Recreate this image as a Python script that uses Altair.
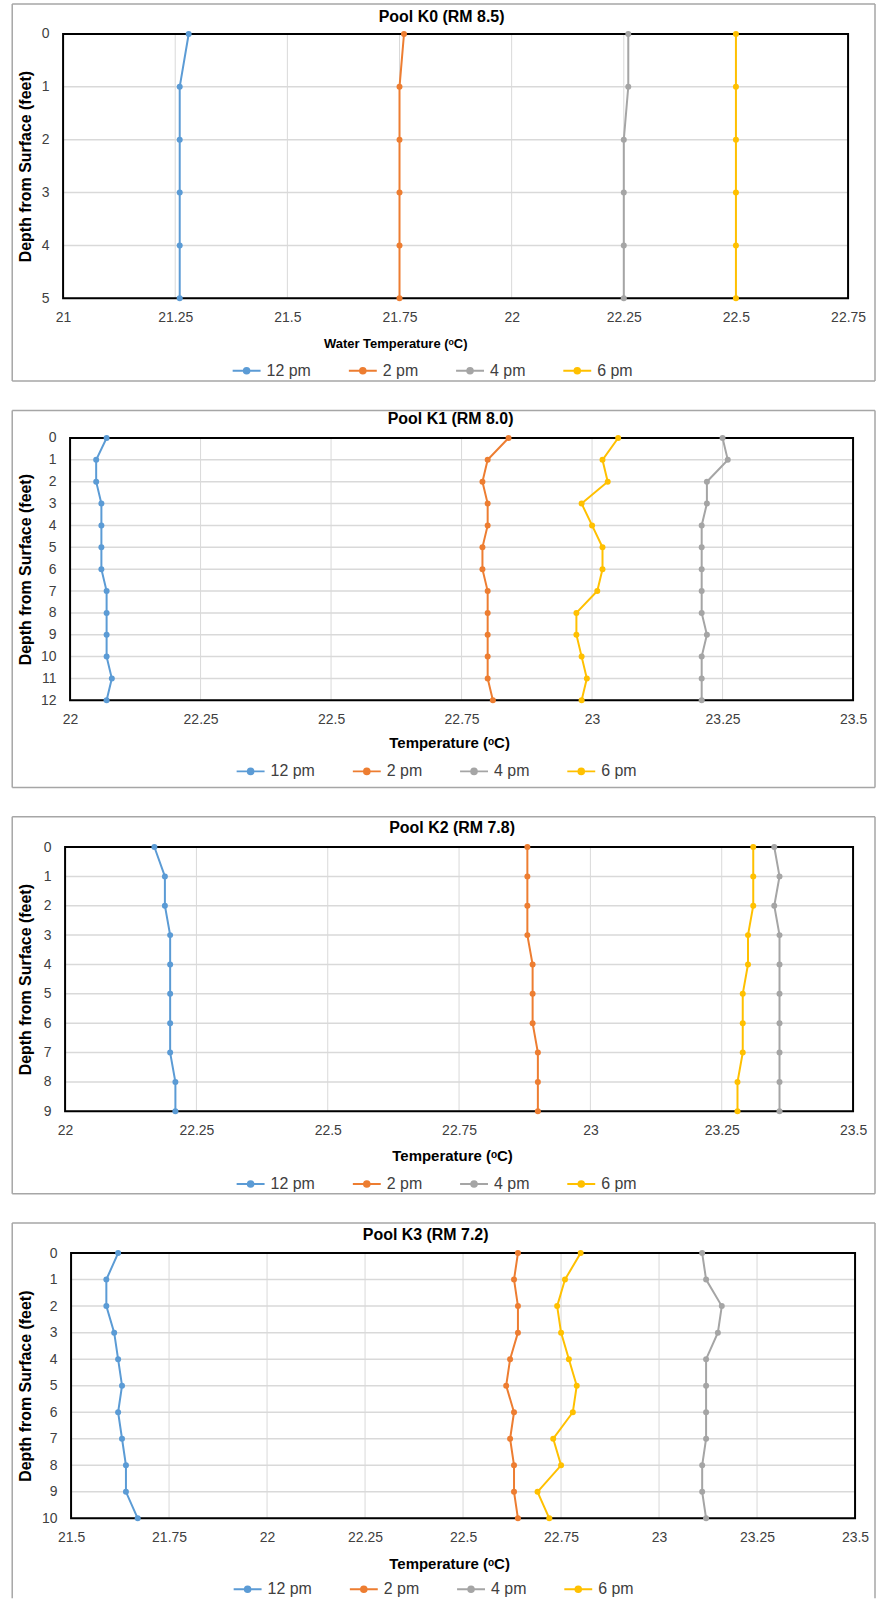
import altair as alt
import pandas as pd

FONT = "Liberation Sans"
SERIES = ["12 pm", "2 pm", "4 pm", "6 pm"]
COLORS = ["#5B9BD5", "#ED7D31", "#A5A5A5", "#FFC000"]
Y_TITLE = "Depth from Surface (feet)"
GRID = "#D9D9D9"

# Pool K0 (RM 8.5)
K0_DEPTH = [0, 1, 2, 3, 4, 5]
K0_12PM = [21.28, 21.26, 21.26, 21.26, 21.26, 21.26]
K0_2PM = [21.76, 21.75, 21.75, 21.75, 21.75, 21.75]
K0_4PM = [22.26, 22.26, 22.25, 22.25, 22.25, 22.25]
K0_6PM = [22.50, 22.50, 22.50, 22.50, 22.50, 22.50]
K0_XTICKS = [21, 21.25, 21.5, 21.75, 22, 22.25, 22.5, 22.75]

# Pool K1 (RM 8.0)
K1_DEPTH = [0, 1, 2, 3, 4, 5, 6, 7, 8, 9, 10, 11, 12]
K1_12PM = [22.07, 22.05, 22.05, 22.06, 22.06, 22.06, 22.06, 22.07, 22.07, 22.07, 22.07, 22.08, 22.07]
K1_2PM = [22.84, 22.80, 22.79, 22.80, 22.80, 22.79, 22.79, 22.80, 22.80, 22.80, 22.80, 22.80, 22.81]
K1_4PM = [23.25, 23.26, 23.22, 23.22, 23.21, 23.21, 23.21, 23.21, 23.21, 23.22, 23.21, 23.21, 23.21]
K1_6PM = [23.05, 23.02, 23.03, 22.98, 23.00, 23.02, 23.02, 23.01, 22.97, 22.97, 22.98, 22.99, 22.98]
K1_XTICKS = [22, 22.25, 22.5, 22.75, 23, 23.25, 23.5]

# Pool K2 (RM 7.8)
K2_DEPTH = [0, 1, 2, 3, 4, 5, 6, 7, 8, 9]
K2_12PM = [22.17, 22.19, 22.19, 22.20, 22.20, 22.20, 22.20, 22.20, 22.21, 22.21]
K2_2PM = [22.88, 22.88, 22.88, 22.88, 22.89, 22.89, 22.89, 22.90, 22.90, 22.90]
K2_4PM = [23.35, 23.36, 23.35, 23.36, 23.36, 23.36, 23.36, 23.36, 23.36, 23.36]
K2_6PM = [23.31, 23.31, 23.31, 23.30, 23.30, 23.29, 23.29, 23.29, 23.28, 23.28]
K2_XTICKS = [22, 22.25, 22.5, 22.75, 23, 23.25, 23.5]

# Pool K3 (RM 7.2)
K3_DEPTH = [0, 1, 2, 3, 4, 5, 6, 7, 8, 9, 10]
K3_12PM = [21.62, 21.59, 21.59, 21.61, 21.62, 21.63, 21.62, 21.63, 21.64, 21.64, 21.67]
K3_2PM = [22.64, 22.63, 22.64, 22.64, 22.62, 22.61, 22.63, 22.62, 22.63, 22.63, 22.64]
K3_4PM = [23.11, 23.12, 23.16, 23.15, 23.12, 23.12, 23.12, 23.12, 23.11, 23.11, 23.12]
K3_6PM = [22.80, 22.76, 22.74, 22.75, 22.77, 22.79, 22.78, 22.73, 22.75, 22.69, 22.72]
K3_XTICKS = [21.5, 21.75, 22, 22.25, 22.5, 22.75, 23, 23.25, 23.5]

# Legend glyph: a short line with a solid dot (drawn as stacked rings so the
# stroke colour fills it).
_rings = "".join(
    f"M{1.8 - r:.2f},0A{r},{r},0,1,1,{1.8 + r:.2f},0A{r},{r},0,1,1,{1.8 - r:.2f},0"
    for r in (0.16, 0.36, 0.56)
)
LEGEND_GLYPH = "M-1,0L4.6,0" + _rings

ONE_ROW = alt.Data(values=[{"k": 0}])

# Every panel shares one view box; the plot rectangle sits inside it at [a, b] x [c, c + h].
VIEW_W, VIEW_H = 794, 270
# Outer chart-area box, relative to the view origin
FX1, FX2, FY1, FY2 = -51, 814, -27, 351


def frame_rules(bottom=True):
    style = dict(color="#A6A6A6", strokeWidth=1.5)
    y2 = FY2 if bottom else FY2 - 2
    parts = [
        alt.Chart(ONE_ROW).mark_rule(**style).encode(x=alt.value(FX1), x2=alt.value(FX2), y=alt.value(FY1)),
        alt.Chart(ONE_ROW).mark_rule(**style).encode(x=alt.value(FX1), y=alt.value(FY1), y2=alt.value(y2)),
        alt.Chart(ONE_ROW).mark_rule(**style).encode(x=alt.value(FX2), y=alt.value(FY1), y2=alt.value(y2)),
    ]
    if bottom:
        parts.append(
            alt.Chart(ONE_ROW).mark_rule(**style).encode(x=alt.value(FX1), x2=alt.value(FX2), y=alt.value(FY2))
        )
    return parts


def panel(title, depth, values, xticks, xtitle, g):
    rows = []
    for name, vals in zip(SERIES, values):
        for d, t in zip(depth, vals):
            rows.append({"series": name, "depth": d, "temp": t})
    df = pd.DataFrame(rows)
    a, b, c, h = g["a"], g["b"], g["c"], g["h"]

    xscale = alt.Scale(domain=[xticks[0], xticks[-1]], range=[a, b], nice=False, zero=False)
    yscale = alt.Scale(domain=[depth[0], depth[-1]], range=[c, c + h], nice=False, zero=False)
    xaxis = alt.Axis(
        values=xticks, format=".6~g", title=xtitle, titleFontSize=g["xfs"],
        offset=-(VIEW_H - c - h),
        titleX=g["xtx"], titleY=g["xty"], titleAlign="center", titleBaseline="middle",
    )
    yaxis = alt.Axis(
        values=depth, format="d", title=Y_TITLE, titleFontSize=16, offset=-a,
        titleX=-37.5 - a, titleY=c + h / 2, titleAngle=270,
        titleAlign="center", titleBaseline="middle",
    )
    x = alt.X("temp:Q", scale=xscale, axis=xaxis)
    y = alt.Y("depth:Q", scale=yscale, axis=yaxis)
    cscale = alt.Scale(domain=SERIES, range=COLORS)
    legend = alt.Legend(
        orient="none", direction="horizontal", legendX=g["lx"], legendY=g["ly"],
        title=None, symbolType=LEGEND_GLYPH, symbolSize=100, symbolStrokeWidth=2,
        labelOffset=21, columnPadding=33.5, padding=0,
    )

    # gridlines at the tick values, confined to the plot rectangle
    vgrid = alt.Chart(pd.DataFrame({"temp": xticks})).mark_rule(color=GRID, strokeWidth=1).encode(
        x=x, y=alt.value(c), y2=alt.value(c + h)
    )
    hgrid = alt.Chart(pd.DataFrame({"depth": depth})).mark_rule(color=GRID, strokeWidth=1.5).encode(
        y=y, x=alt.value(a), x2=alt.value(b)
    )
    border = alt.Chart(ONE_ROW).mark_rect(fill="transparent", stroke="black", strokeWidth=2).encode(
        x=alt.value(a), x2=alt.value(b), y=alt.value(c), y2=alt.value(c + h)
    )

    base = alt.Chart(df)
    lines = base.mark_line(strokeWidth=2).encode(
        x=x, y=y, color=alt.Color("series:N", scale=cscale, legend=legend), order="depth:Q"
    )
    points = base.mark_circle(size=36, opacity=1).encode(
        x=x, y=y, color=alt.Color("series:N", scale=cscale, legend=None)
    )
    heading = alt.Chart(ONE_ROW).mark_text(
        font=FONT, fontSize=16, fontWeight="bold", color="black", align="center", baseline="middle"
    ).encode(x=alt.value(g["tx"]), y=alt.value(g["ty"]), text=alt.value(title))

    layers = frame_rules(g.get("bottom", True)) + [vgrid, hgrid, border, lines, points, heading]
    return alt.layer(*layers).properties(width=VIEW_W, height=VIEW_H)


p0 = panel(
    "Pool K0 (RM 8.5)", K0_DEPTH, [K0_12PM, K0_2PM, K0_4PM, K0_6PM], K0_XTICKS,
    "Water Temperature (\u1d52C)",
    dict(a=0, b=787, c=3, h=265, tx=379.5, ty=-13.7, xtx=333, xty=45, xfs=13, lx=167, ly=332.7),
)
p1 = panel(
    "Pool K1 (RM 8.0)", K1_DEPTH, [K1_12PM, K1_2PM, K1_4PM, K1_6PM], K1_XTICKS,
    "Temperature (\u1d52C)",
    dict(a=7, b=792, c=0.67, h=263, tx=388.5, ty=-18.2, xtx=387, xty=42, xfs=15, lx=171, ly=326.9),
)
p2 = panel(
    "Pool K2 (RM 7.8)", K2_DEPTH, [K2_12PM, K2_2PM, K2_4PM, K2_6PM], K2_XTICKS,
    "Temperature (\u1d52C)",
    dict(a=2, b=792, c=3.33, h=265, tx=390, ty=-15.5, xtx=390, xty=44, xfs=15, lx=171, ly=333.2),
)
p3 = panel(
    "Pool K3 (RM 7.2)", K3_DEPTH, [K3_12PM, K3_2PM, K3_4PM, K3_6PM], K3_XTICKS,
    "Temperature (\u1d52C)",
    dict(a=8, b=794, c=3, h=266, tx=363.5, ty=-15, xtx=387, xty=45, xfs=15, lx=168, ly=332, bottom=False),
)

chart = (
    alt.concat(p0, p1, p2, p3, columns=1, spacing=25.4, bounds="full")
    .resolve_scale(color="independent", x="independent", y="independent")
    .resolve_legend(color="independent")
    .properties(padding={"left": 10.25, "top": 0, "right": 0, "bottom": 0}, background="white")
    .configure_view(stroke="transparent")
    .configure_axis(
        labelFont=FONT, labelFontSize=14, labelColor="#404040",
        titleFont=FONT, titleFontSize=14, titleFontWeight="bold", titleColor="black",
        domain=False, ticks=False, tickSize=0, grid=False,
        labelFlush=False, labelBound=False, labelOverlap=False,
    )
    .configure_axisX(labelPadding=12)
    .configure_axisY(labelPadding=14)
    .configure_legend(labelFont=FONT, labelFontSize=16, labelColor="#404040")
)

chart.save("out.html", embed_options={"renderer": "svg", "actions": False})
